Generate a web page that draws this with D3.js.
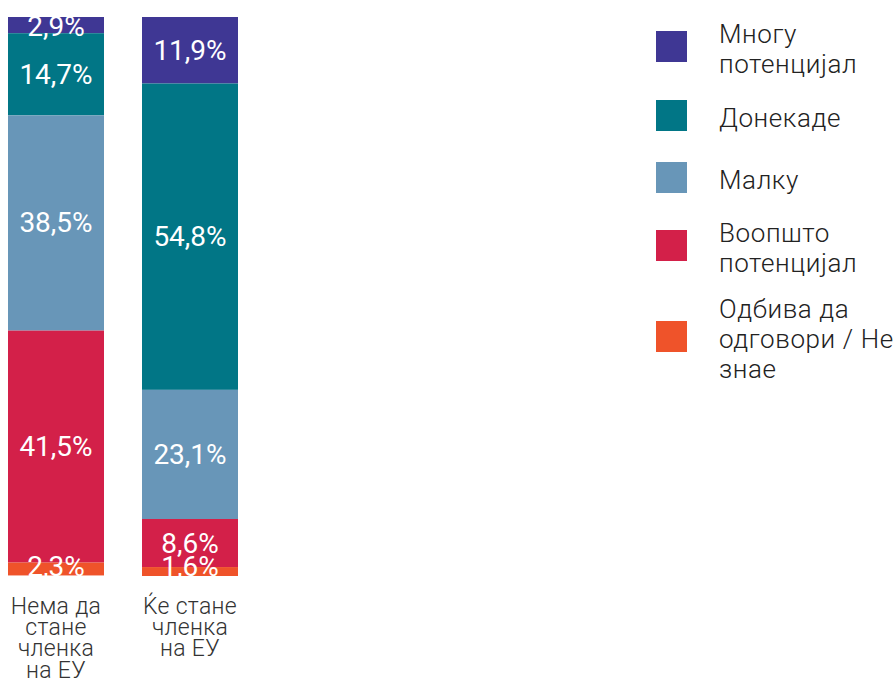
<!DOCTYPE html>
<html>
<head>
<meta charset="utf-8">
<script src="https://cdn.jsdelivr.net/npm/d3@7"></script>
<style>
  html, body { margin: 0; padding: 0; background: #fff; }
  svg { display: block; }
</style>
</head>
<body>
<svg id="chart" width="896" height="680"></svg>
<script>
// ---- data ----
const categories = ["Нема да стане членка на ЕУ", "Ќе стане членка на ЕУ"];
const categoryLines = [["Нема да", "стане", "членка", "на ЕУ"], ["Ќе стане", "членка", "на ЕУ"]];
const seriesKeys = ["Многу потенцијал", "Донекаде", "Малку", "Воопшто потенцијал", "Одбива да одговори / Не знае"];
const legendLines = [["Многу", "потенцијал"], ["Донекаде"], ["Малку"], ["Воопшто", "потенцијал"], ["Одбива да", "одговори / Не", "знае"]];
const seriesColors = ["#3f3794", "#017686", "#6896b8", "#d32049", "#ef532a"];
const valuesMnogu    = [2.9, 11.9];
const valuesDonekade = [14.7, 54.8];
const valuesMalku    = [38.5, 23.1];
const valuesVoopsto  = [41.5, 8.6];
const valuesOdbiva   = [2.3, 1.6];

const seriesValues = [valuesMnogu, valuesDonekade, valuesMalku, valuesVoopsto, valuesOdbiva];
const table = categories.map((c, i) => {
  const row = { category: c };
  seriesKeys.forEach((k, j) => row[k] = seriesValues[j][i]);
  return row;
});

// ---- layout ----
const svg = d3.select("#chart");
const plotTop = 17, plotBottom = 576;

const x = d3.scaleBand().domain(categories).range([8, 238]).paddingInner(0.2836).paddingOuter(0);
const y = d3.scaleLinear().domain([0, 100]).range([plotTop, plotBottom]);
const color = d3.scaleOrdinal().domain(seriesKeys).range(seriesColors);

const stacked = d3.stack().keys(seriesKeys)(table);

svg.append("defs").append("clipPath").attr("id", "plotclip")
  .append("rect").attr("x", 0).attr("y", plotTop).attr("width", 260).attr("height", plotBottom - plotTop);

const plot = svg.append("g").attr("clip-path", "url(#plotclip)");

const layers = plot.selectAll("g.layer").data(stacked).join("g")
  .attr("class", "layer").attr("fill", d => color(d.key));

layers.selectAll("rect").data(d => d).join("rect")
  .attr("x", d => x(d.data.category))
  .attr("width", x.bandwidth())
  .attr("y", d => y(d[0]))
  .attr("height", d => y(d[1]) - y(d[0]));

const fmt = v => v.toFixed(1).replace(".", ",") + "%";

plot.selectAll("g.lbl").data(stacked).join("g").attr("class", "lbl")
  .selectAll("text").data(d => d.map(s => ({ s, key: d.key }))).join("text")
  .attr("x", d => x(d.s.data.category) + x.bandwidth() / 2)
  .attr("y", d => {
    const y0 = y(d.s[0]), y1 = y(d.s[1]);
    let c = (y0 + y1) / 2;
    c = Math.max(c, y0 + 9);
    c = Math.min(c, plotBottom - 9.3);
    return c;
  })
  .attr("text-anchor", "middle")
  .attr("dominant-baseline", "central")
  .attr("fill", "#fff")
  .style("font-family", "Roboto, 'Noto Sans', sans-serif")
  .style("font-size", "28px")
  .style("font-weight", 400)
  .text(d => fmt(d.s.data[d.key]));

// category labels
const catG = svg.append("g");
categories.forEach((c, i) => {
  const t = catG.append("text")
    .attr("x", x(c) + x.bandwidth() / 2)
    .attr("y", 614)
    .attr("text-anchor", "middle")
    .attr("fill", "#333")
    .style("font-family", "Roboto, 'Noto Sans', sans-serif")
    .style("font-size", "23px")
    .style("letter-spacing", "0.3px")
    .style("font-weight", 300);
  categoryLines[i].forEach((ln, j) => {
    t.append("tspan").attr("x", x(c) + x.bandwidth() / 2).attr("dy", j === 0 ? 0 : 21.2).text(ln);
  });
});

// legend
const legendCenters = [46.5, 115.5, 177.5, 245.5, 336.5];
const leg = svg.append("g");
seriesKeys.forEach((k, i) => {
  const cy = legendCenters[i];
  leg.append("rect").attr("x", 656).attr("y", cy - 15.5).attr("width", 31).attr("height", 31).attr("fill", color(k));
  const n = legendLines[i].length;
  const t = leg.append("text")
    .attr("x", 719)
    .attr("y", cy + 11 - (n - 1) * 15)
    .attr("fill", "#222")
    .style("font-family", "Roboto, 'Noto Sans', sans-serif")
    .style("font-size", "26px")
    .style("letter-spacing", "0.6px")
    .style("font-weight", 300);
  legendLines[i].forEach((ln, j) => {
    t.append("tspan").attr("x", 719).attr("dy", j === 0 ? 0 : 30).text(ln);
  });
});
</script>
</body>
</html>
